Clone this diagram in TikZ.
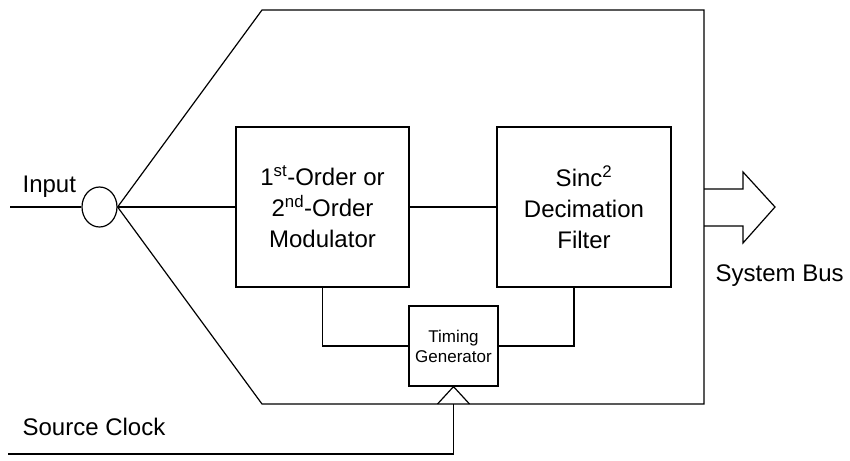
\documentclass[tikz,border=0pt]{standalone}
\usepackage{fontspec}
\setmainfont{Liberation Sans}
\usetikzlibrary{shapes.geometric}
\begin{document}
\begin{tikzpicture}[x=1pt,y=-1pt,line width=1.2pt,
  blockbox/.style={draw,rectangle,inner sep=0pt,align=center,font=\fontsize{24}{31}\selectfont},
  smallbox/.style={draw,rectangle,inner sep=0pt,align=center,font=\fontsize{17}{20}\selectfont},
  lbl/.style={inner sep=0pt,anchor=base west,font=\fontsize{24}{29}\selectfont},
  junction/.style={draw,ellipse,inner sep=0pt,minimum width=35pt,minimum height=40pt}]
\useasboundingbox (0,0) rectangle (850,460);

% nodes
\node[junction] (sum) at (99.5,207) {};
\node[blockbox,minimum width=173pt,minimum height=160pt] (mod) at (322.5,207)
  {1\textsuperscript{st}-Order or\\2\textsuperscript{nd}-Order\\Modulator};
\node[blockbox,minimum width=174pt,minimum height=160pt] (sinc) at (584,207)
  {Sinc\textsuperscript{2}\\Decimation\\Filter};
\node[smallbox,minimum width=89pt,minimum height=80pt] (tg) at (453.5,346)
  {Timing\\Generator};

% labels
\node[lbl] (inlbl) at (22,192) {Input};
\node[lbl] (sclbl) at (22,435) {Source Clock};
\node[lbl] (sblbl) at (715,281) {System Bus};

% coordinates
\coordinate (otl) at (262,10);
\coordinate (otr) at (704,10);
\coordinate (obr) at (704,404);
\coordinate (obl) at (262,404);
\coordinate (inp) at (10,207);
\coordinate (clk) at (8,454);

% outer housing
\draw (sum.east) -- (otl) -- (otr) -- (obr) -- (obl) -- (sum.east);

% signal path
\draw (inp) -- (sum.west);
\draw (sum.east) -- (mod.west);
\draw (mod.east) -- (sinc.west);

% timing connections
\draw (mod.south) |- (tg.west);
\draw ([xshift=-10pt]sinc.south) |- (tg.east);

% clock input
\draw (clk) -| (tg.south |- obl);
\draw ([xshift=-16pt]tg.south |- obl) -- (tg.south) -- ([xshift=16pt]tg.south |- obl);

% system bus arrow
\draw[line join=miter] (704,189) -- (743,189) -- (743,172) -- (775,207) -- (743,243) -- (743,226) -- (704,226);
\end{tikzpicture}
\end{document}
